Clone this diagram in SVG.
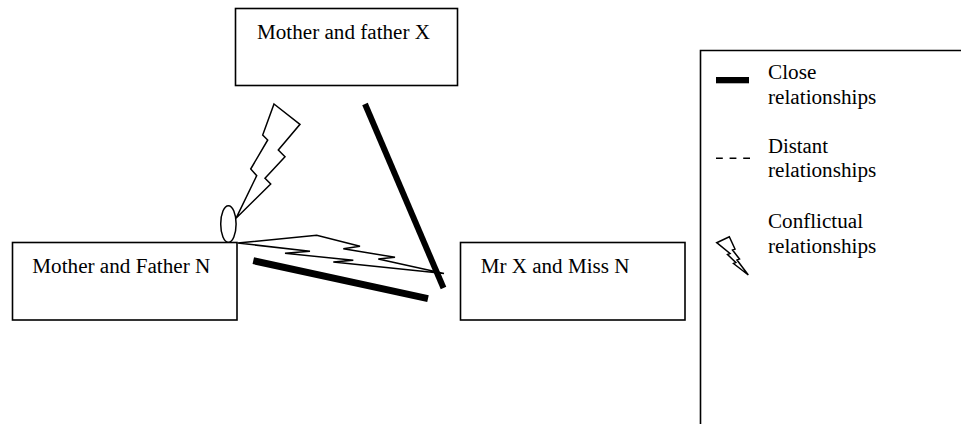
<svg xmlns="http://www.w3.org/2000/svg" width="961" height="435" viewBox="0 0 961 435">
<style>
.box{fill:#fff;stroke:#000;stroke-width:1.6}
.t{font-family:'Liberation Serif','Times New Roman',serif;font-size:20px;fill:#000}
.bolt{fill:#fff;stroke:#000;stroke-width:1.5;stroke-linejoin:miter}
.thick{stroke:#000;fill:none}
</style>
<rect width="961" height="435" fill="#fff"/>
<g id="node-mfx">
<rect class="box" x="235.5" y="8.5" width="222" height="77"/>
<text class="t" x="257" y="38.5" textLength="173" lengthAdjust="spacingAndGlyphs">Mother and father X</text>
</g>
<g id="node-mfn">
<rect class="box" x="12.5" y="242.5" width="224.5" height="77.5"/>
<text class="t" x="32.3" y="273.3" textLength="178" lengthAdjust="spacingAndGlyphs">Mother and Father N</text>
</g>
<g id="node-mrx">
<rect class="box" x="460.5" y="242.5" width="224.5" height="77.5"/>
<text class="t" x="480.7" y="273.3" textLength="148.7" lengthAdjust="spacingAndGlyphs">Mr X and Miss N</text>
</g>
<g id="connectors">
<ellipse cx="228.4" cy="224" rx="7.7" ry="18.3" fill="#fff" stroke="#000" stroke-width="1.5"/>
<path class="bolt" d="M274,104 L300,124.3 L278.3,150 L285,156.7 L265,178.3 L270.7,184 L236,218.3 L256.7,175.7 L250.7,169 L267.7,140 L262.7,135 Z"/>
<path class="bolt" fill="none" d="M237.7,243 L316.7,235.3 L360,246.3 L343.3,248.7 L395,257.3 L378.3,259 L444,273.5 L333.3,262 L353.3,260.3 L285,253.3 L310,251.3 Z"/>
<line class="thick" x1="365" y1="104" x2="443.5" y2="288" stroke-width="6"/>
<line class="thick" x1="253.3" y1="260.7" x2="428" y2="298.7" stroke-width="7"/>
</g>
<g id="legend">
<path d="M700.5,424 V50.5 H962" fill="none" stroke="#000" stroke-width="1.6"/>
<rect x="716" y="77" width="33" height="6.3" fill="#000"/>
<line x1="716" y1="158.3" x2="750" y2="158.3" stroke="#000" stroke-width="1.5" stroke-dasharray="6.8,6.8"/>
<path class="bolt" d="M716.7,242.7 L729.3,236.7 L735,249 L732.5,250 L739.5,259 L737,260 L748.3,275 L733.5,263.5 L735.8,262.5 L727.5,254.5 L730,253.5 Z"/>
<text class="t" x="768" y="79.3" textLength="48.3" lengthAdjust="spacingAndGlyphs">Close</text>
<text class="t" x="768" y="103.5" textLength="108.3" lengthAdjust="spacingAndGlyphs">relationships</text>
<text class="t" x="768" y="152.7" textLength="60" lengthAdjust="spacingAndGlyphs">Distant</text>
<text class="t" x="768" y="177.3" textLength="108.3" lengthAdjust="spacingAndGlyphs">relationships</text>
<text class="t" x="768" y="228.3" textLength="95" lengthAdjust="spacingAndGlyphs">Conflictual</text>
<text class="t" x="768" y="252.7" textLength="108.3" lengthAdjust="spacingAndGlyphs">relationships</text>
</g>
</svg>
